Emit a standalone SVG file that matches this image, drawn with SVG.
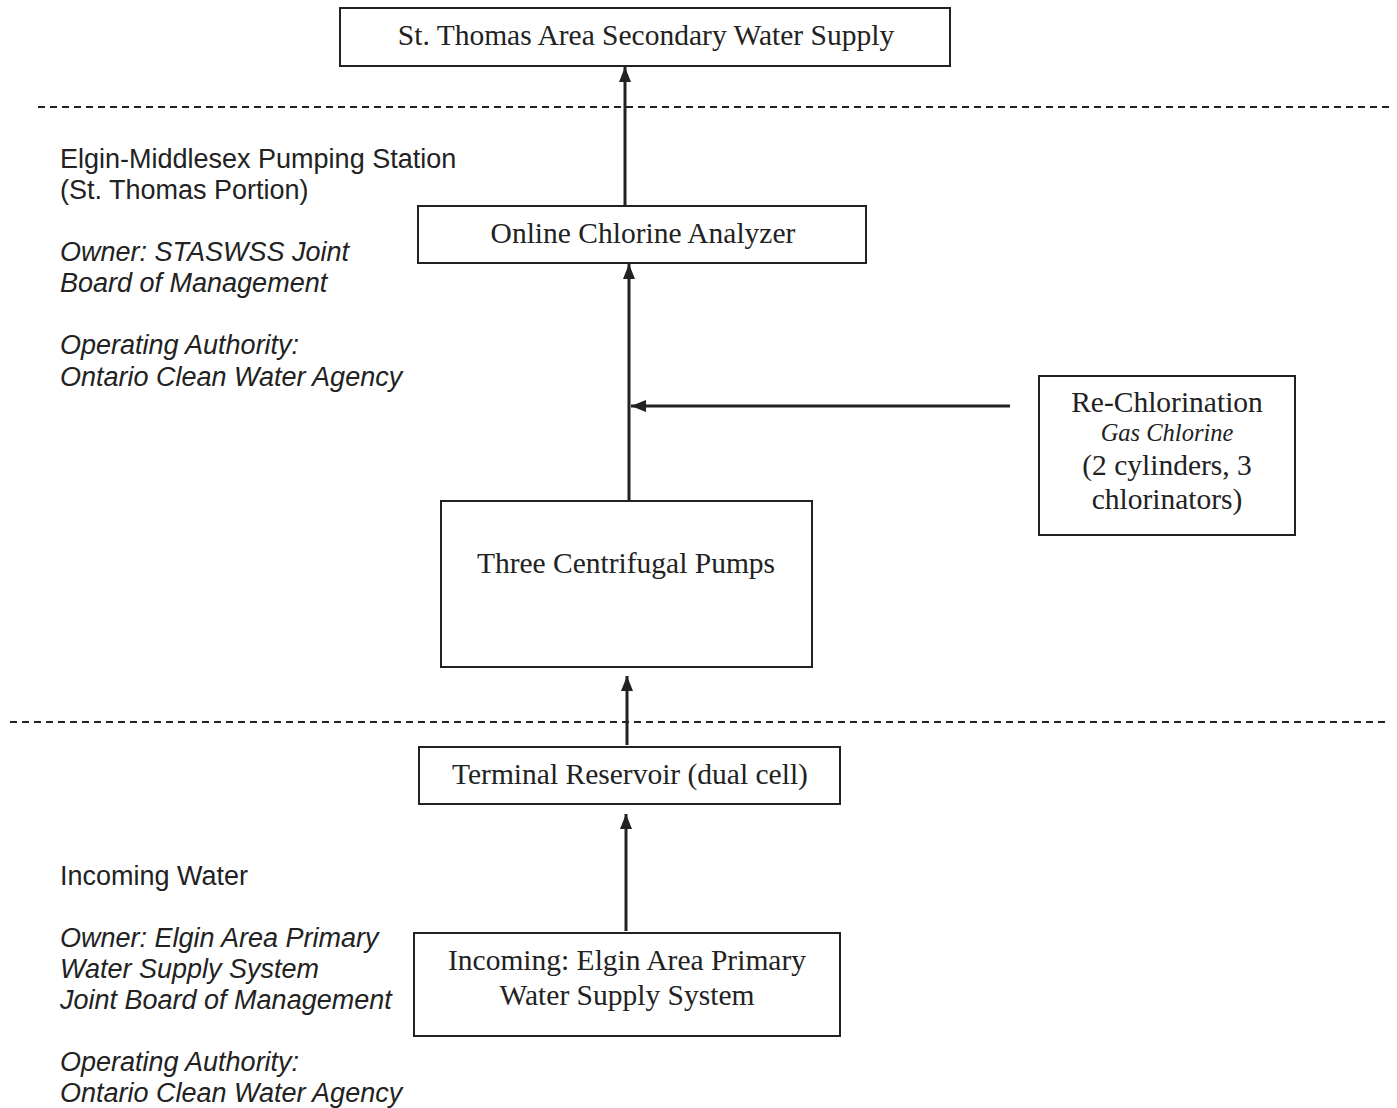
<svg xmlns="http://www.w3.org/2000/svg" width="1397" height="1108" viewBox="0 0 1397 1108">
<defs>
<marker id="ah" markerWidth="15" markerHeight="12" refX="15" refY="6" orient="auto" markerUnits="userSpaceOnUse" viewBox="0 0 15 12">
<path d="M0,0 L15,6 L0,12 z" fill="#222"/>
</marker>
<style>
.box{fill:#fff;stroke:#222;stroke-width:2}
.bt{font-family:"Liberation Serif","Times New Roman",serif;font-size:29.5px;fill:#222;text-anchor:middle}
.lt{font-family:"Liberation Sans",Arial,sans-serif;font-size:27px;fill:#222}
.it{font-style:italic}
.conn{stroke:#222;stroke-width:3;fill:none}
.dash{stroke:#222;stroke-width:2;stroke-dasharray:7,5;fill:none}
</style>
</defs>
<rect width="1397" height="1108" fill="#fff"/>
<g id="dividers">
<line class="dash" x1="38" y1="107" x2="1390" y2="107"/>
<line class="dash" x1="10" y1="722" x2="1390" y2="722"/>
</g>
<g id="connectors">
<line class="conn" x1="625" y1="205" x2="625" y2="67" marker-end="url(#ah)"/>
<line class="conn" x1="629" y1="500" x2="629" y2="264" marker-end="url(#ah)"/>
<line class="conn" x1="1010" y1="406" x2="631" y2="406" marker-end="url(#ah)"/>
<line class="conn" x1="627" y1="745" x2="627" y2="676" marker-end="url(#ah)"/>
<line class="conn" x1="626" y1="931" x2="626" y2="814" marker-end="url(#ah)"/>
</g>
<g id="supply">
<rect class="box" x="340" y="8" width="610" height="58"/>
<text class="bt" x="646" y="45">St. Thomas Area Secondary Water Supply</text>
</g>
<g id="analyzer">
<rect class="box" x="418" y="206" width="448" height="57"/>
<text class="bt" x="643" y="243">Online Chlorine Analyzer</text>
</g>
<g id="rechlorination">
<rect class="box" x="1039" y="376" width="256" height="159"/>
<text class="bt" x="1167" y="412">Re-Chlorination</text>
<text class="bt it" x="1167" y="441" style="font-size:24.5px">Gas Chlorine</text>
<text class="bt" x="1167" y="475">(2 cylinders, 3</text>
<text class="bt" x="1167" y="509">chlorinators)</text>
</g>
<g id="pumps">
<rect class="box" x="441" y="501" width="371" height="166"/>
<text class="bt" x="626" y="573">Three Centrifugal Pumps</text>
</g>
<g id="reservoir">
<rect class="box" x="419" y="747" width="421" height="57"/>
<text class="bt" x="630" y="784">Terminal Reservoir (dual cell)</text>
</g>
<g id="incoming">
<rect class="box" x="414" y="933" width="426" height="103"/>
<text class="bt" x="627" y="970">Incoming: Elgin Area Primary</text>
<text class="bt" x="627" y="1005">Water Supply System</text>
</g>
<g id="station-notes">
<text class="lt" x="60" y="168">Elgin-Middlesex Pumping Station</text>
<text class="lt" x="60" y="199">(St. Thomas Portion)</text>
<text class="lt it" x="60" y="261">Owner: STASWSS Joint</text>
<text class="lt it" x="60" y="292">Board of Management</text>
<text class="lt it" x="60" y="354">Operating Authority:</text>
<text class="lt it" x="60" y="386">Ontario Clean Water Agency</text>
</g>
<g id="incoming-notes">
<text class="lt" x="60" y="885">Incoming Water</text>
<text class="lt it" x="60" y="947">Owner: Elgin Area Primary</text>
<text class="lt it" x="60" y="978">Water Supply System</text>
<text class="lt it" x="60" y="1009">Joint Board of Management</text>
<text class="lt it" x="60" y="1071">Operating Authority:</text>
<text class="lt it" x="60" y="1102">Ontario Clean Water Agency</text>
</g>
</svg>
